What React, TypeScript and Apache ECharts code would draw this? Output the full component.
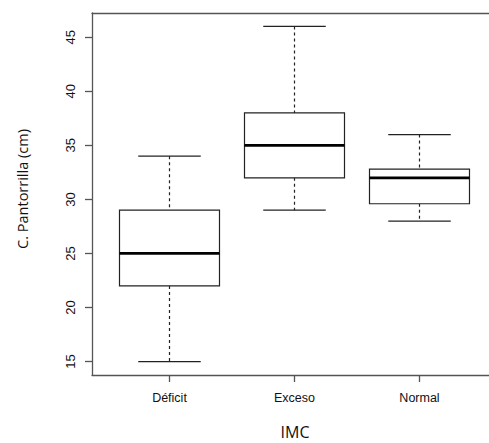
import React, { useEffect, useRef } from "react";
import * as echarts from "echarts";

const categories = ["Déficit", "Exceso", "Normal"];
const lowerWhisker = [15, 29, 28];
const q1 = [22, 32, 29.6];
const median = [25, 35, 32];
const q3 = [29, 38, 32.8];
const upperWhisker = [34, 46, 36];
const yTicks = [15, 20, 25, 30, 35, 40, 45];
const xTicks = [0, 1, 2];

export default function App() {
  const ref = useRef<HTMLDivElement>(null);
  useEffect(() => {
    document.body.style.margin = "0";
    document.body.style.overflow = "hidden";
    const chart = echarts.init(ref.current!, null, { renderer: "svg" });
    const data = categories.map((_, i) => [i, lowerWhisker[i], q1[i], median[i], q3[i], upperWhisker[i]]);
    const lineColor = "#222";
    const frame = { color: "#555", width: 1.3 };
    chart.setOption({
      animation: false,
      backgroundColor: "#fff",
      grid: { left: 92, right: 0, top: 13, bottom: 68, show: false },
      xAxis: [
        {
          type: "value",
          position: "bottom",
          min: -0.62,
          max: 2.62,
          axisLine: { show: true, onZero: false, lineStyle: frame },
          splitLine: { show: false },
          axisTick: { show: true, customValues: xTicks, length: 7, lineStyle: frame },
          axisLabel: {
            customValues: xTicks,
            formatter: (v: number) => categories[Math.round(v)] ?? "",
            margin: 16,
            fontFamily: "Liberation Sans",
            fontSize: 12.5,
            color: "#111",
          },
        },
        {
          type: "value",
          position: "top",
          min: -0.62,
          max: 2.62,
          axisLine: { show: true, onZero: false, lineStyle: frame },
          splitLine: { show: false },
          axisTick: { show: false },
          axisLabel: { show: false },
        },
      ],
      yAxis: {
        type: "value",
        min: 13.76,
        max: 47.24,
        axisLine: { show: true, onZero: false, lineStyle: frame },
        splitLine: { show: false },
        axisTick: { show: true, customValues: yTicks, length: 7, lineStyle: frame },
        axisLabel: {
          customValues: yTicks,
          rotate: 90,
          margin: 15,
          fontFamily: "Liberation Sans",
          fontSize: 13,
          color: "#111",
        },
      },
      graphic: [
        {
          type: "text",
          x: 22,
          y: 189,
          rotation: Math.PI / 2,
          style: { text: "C. Pantorrilla (cm)", fontFamily: "Open Sans", fontSize: 14.5, fill: "#111", align: "center", verticalAlign: "middle" },
        },
        {
          type: "text",
          x: 295,
          y: 432,
          style: { text: "IMC", fontFamily: "Open Sans", fontSize: 16, lineHeight: 16, fill: "#111", align: "center", verticalAlign: "middle" },
        },
      ],
      series: [
        {
          type: "custom",
          xAxisIndex: 0,
          data,
          encode: { x: 0, y: [1, 2, 3, 4, 5] },
          renderItem: (params: any, api: any) => {
            const x = api.value(0);
            const lw = api.coord([x, api.value(1)]);
            const b1 = api.coord([x, api.value(2)]);
            const md = api.coord([x, api.value(3)]);
            const b3 = api.coord([x, api.value(4)]);
            const uw = api.coord([x, api.value(5)]);
            const half = api.size([0.8, 0])[0] / 2;
            const capHalf = api.size([0.5, 0])[0] / 2;
            const cx = lw[0];
            const solid = { stroke: lineColor, lineWidth: 1.2, fill: null };
            const dashed = { stroke: lineColor, lineWidth: 1.2, lineDash: [3, 3], fill: null };
            return {
              type: "group",
              children: [
                { type: "line", shape: { x1: cx, y1: uw[1], x2: cx, y2: b3[1] }, style: dashed },
                { type: "line", shape: { x1: cx, y1: b1[1], x2: cx, y2: lw[1] }, style: dashed },
                { type: "line", shape: { x1: cx - capHalf, y1: uw[1], x2: cx + capHalf, y2: uw[1] }, style: solid },
                { type: "line", shape: { x1: cx - capHalf, y1: lw[1], x2: cx + capHalf, y2: lw[1] }, style: solid },
                {
                  type: "rect",
                  shape: { x: cx - half, y: b3[1], width: 2 * half, height: b1[1] - b3[1] },
                  style: { stroke: lineColor, lineWidth: 1.2, fill: "#fff" },
                },
                { type: "line", shape: { x1: cx - half, y1: md[1], x2: cx + half, y2: md[1] }, style: { stroke: "#000", lineWidth: 2.8 } },
              ],
            };
          },
        },
      ],
    });
    return () => chart.dispose();
  }, []);
  return (
    <div style={{ position: "fixed", left: 0, top: 0, width: 489, height: 443, overflow: "hidden", background: "#fff" }}>
      <div ref={ref} style={{ width: 497, height: 443 }} />
    </div>
  );
}
